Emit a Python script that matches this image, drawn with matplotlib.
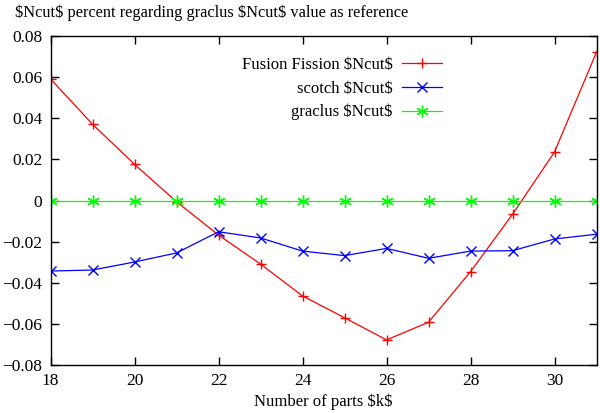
import matplotlib
matplotlib.use("Agg")
import matplotlib.pyplot as plt

plt.rcParams["font.family"] = ["Liberation Serif", "DejaVu Serif"]

parts = [18, 19, 20, 21, 22, 23, 24, 25, 26, 27, 28, 29, 30, 31]
fusion = [0.0591, 0.0371, 0.0176, -0.0006, -0.0168, -0.0309, -0.0464, -0.0570,
          -0.0678, -0.0592, -0.0346, -0.0067, 0.0236, 0.0722]
scotch = [-0.0343, -0.0338, -0.0299, -0.0255, -0.0152, -0.0182, -0.0246, -0.0268,
          -0.0233, -0.0281, -0.0246, -0.0244, -0.0187, -0.0164]
graclus = [0.0] * len(parts)

yticks = [0.08, 0.06, 0.04, 0.02, 0, -0.02, -0.04, -0.06, -0.08]
ylabels = ["0.08", "0.06", "0.04", "0.02", "0", "\u22120.02", "\u22120.04", "\u22120.06", "\u22120.08"]
xticks = [18, 20, 22, 24, 26, 28, 30]

fig = plt.figure(figsize=(6, 4.13), dpi=100)
ax = fig.add_axes([0.0842, 0.1162, 0.91, 0.7966])

ax.plot(parts, fusion, color="#ff0000", lw=0.9, marker="+", ms=7.5, mew=1,
        label=r"Fusion Fission \$Ncut\$")
ax.plot(parts, scotch, color="#0000ff", lw=0.9, marker="x", ms=6.5, mew=1,
        label=r"scotch \$Ncut\$")
ax.plot(parts, graclus, color="#00ff00", lw=0.9, marker=(6, 2, 0), ms=8.5, mew=1,
        label=r"graclus \$Ncut\$")

ax.set_xlim(18, 31)
ax.set_ylim(-0.08, 0.08)
ax.set_xticks(xticks)
ax.set_yticks(yticks)
ax.set_yticklabels(ylabels)
ax.tick_params(direction="in", top=True, right=True, length=6, width=1,
               labelsize=12.5, pad=6)
for s in ax.spines.values():
    s.set_linewidth(1)

ax.set_xlabel(r"Number of parts \$k\$", fontsize=12, labelpad=3)
fig.text(0.025, 0.969, r"\$Ncut\$ percent regarding graclus \$Ncut\$ value as reference",
         fontsize=11.8, ha="left", va="center")

leg = ax.legend(loc="upper right", bbox_to_anchor=(441.7 / 600, 1 - 57 / 413),
                bbox_transform=fig.transFigure, frameon=False,
                markerfirst=False, fontsize=12, handlelength=2.4,
                handletextpad=0.55, labelspacing=0.45, borderaxespad=0,
                borderpad=0)
leg._legend_box.align = "right"
for t in leg.get_texts():
    t.set_ha("right")

fig.savefig("out.png", dpi=100)
